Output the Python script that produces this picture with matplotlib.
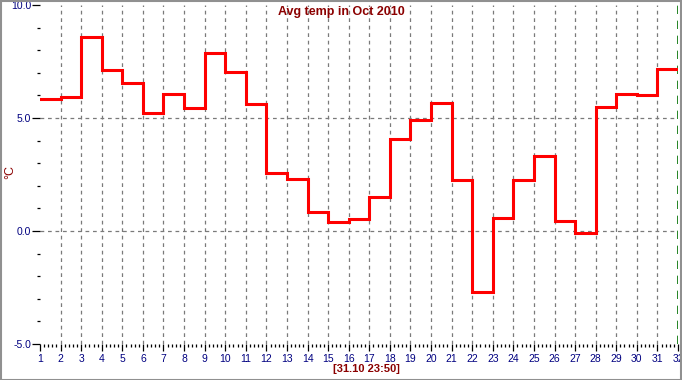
import matplotlib
matplotlib.use("Agg")
import matplotlib.pyplot as plt
from matplotlib.patches import Rectangle
from matplotlib.ticker import MultipleLocator

# ---- data ----
days = list(range(1, 32))
temps = [5.82, 5.95, 8.58, 7.11, 6.54, 5.20, 6.05, 5.46, 7.86, 7.03,
         5.60, 2.57, 2.28, 0.86, 0.42, 0.55, 1.52, 4.09, 4.93, 5.67,
         2.26, -2.72, 0.58, 2.26, 3.32, 0.45, -0.09, 5.50, 6.07, 6.02,
         7.18]
x_ticks = list(range(1, 33))
y_ticks = [-5.0, 0.0, 5.0, 10.0]
y_tick_labels = ["-5.0", "0.0", "5.0", "10.0"]
title = "Avg temp in Oct 2010"
stamp = "[31.10 23:50]"
ylabel = "°C"

W, H = 682, 380
fig = plt.figure(figsize=(W / 100, H / 100), dpi=100)
fig.patch.set_facecolor("white")
ax = fig.add_axes([40 / W, (H - 344) / H, (678 - 40) / W, (344 - 5) / H])

edges = days + [days[-1] + 1]
vals = temps + [temps[-1]]
ax.step(edges, vals, where="post", color="#ff0000", lw=2.2, zorder=5,
        solid_joinstyle="miter")

ax.set_xlim(1, 32)
ax.set_ylim(-5, 10)

for s in ax.spines.values():
    s.set_visible(False)

# grid lines
for xv in x_ticks[1:-1]:
    ax.axvline(xv, color="#7a7a7a", lw=0.9, ls=(0, (3, 3)), zorder=1)
ax.axvline(x_ticks[-1], color="#007000", lw=1.2, ls=(0, (5, 4)), zorder=1)
for yv in y_ticks[1:-1]:
    ax.axhline(yv, color="#7a7a7a", lw=0.9, ls=(0, (3, 3)), zorder=1)

font = "Liberation Sans"
ax.set_xticks(x_ticks)
ax.set_xticklabels([str(v) for v in x_ticks], fontsize=7.5, color="#000080",
                   family=font)
ax.xaxis.set_minor_locator(MultipleLocator(0.2))
ax.set_yticks(y_ticks)
ax.set_yticklabels(y_tick_labels, fontsize=7.5, color="#000080", family=font)
ax.yaxis.set_minor_locator(MultipleLocator(1.0))

ax.tick_params(axis="x", which="major", direction="out", length=5, width=0.9,
               color="black", pad=2)
ax.tick_params(axis="x", which="minor", direction="out", length=2.5, width=0.9,
               color="black")
ax.tick_params(axis="y", which="major", direction="out", length=5.5, width=0.9,
               color="black", pad=1)
ax.tick_params(axis="y", which="minor", direction="out", length=2.5, width=0.9,
               color="black")

fig.text(341 / W, 1 - 12 / H, title, ha="center", va="center", fontsize=9,
         fontweight="bold", color="#8b0000", family=font)
fig.text(366 / W, 1 - 369 / H, stamp, ha="center", va="center", fontsize=8,
         fontweight="bold", color="#8b0000", family=font)
fig.text(10 / W, 1 - 172 / H, ylabel, ha="center", va="center", fontsize=9,
         color="#8b0000", rotation=90, family=font)

fig.patches.append(Rectangle((0.5 / W, 0.5 / H), 1 - 1.5 / W, 1 - 1.5 / H,
                             transform=fig.transFigure, fill=False,
                             edgecolor="#909090", lw=1.5))

fig.savefig("out.png", dpi=100)
